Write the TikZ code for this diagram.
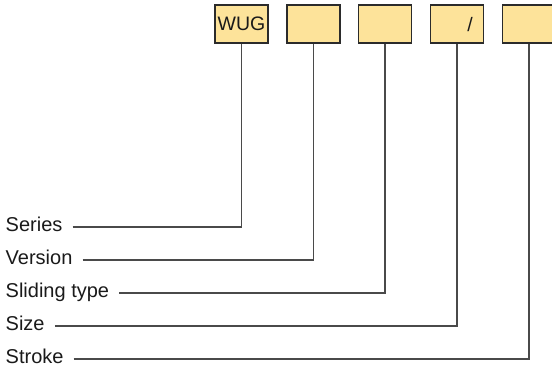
\documentclass[tikz,border=0pt]{standalone}
\usepackage{fontspec}
\setmainfont{Liberation Sans}
\usetikzlibrary{calc}
\definecolor{boxfill}{HTML}{FDE39A}
\definecolor{boxline}{HTML}{2B2B2B}
\definecolor{conn}{HTML}{4A4A4A}
\definecolor{txt}{HTML}{1A1A1A}
\tikzset{
  x=1pt, y=-1pt,
  codebox/.style={draw=boxline, fill=boxfill, line width=1.1pt, minimum width=53pt, minimum height=38pt, inner sep=0pt, anchor=center, text=txt, font=\fontsize{19.5}{22}\selectfont},
  lab/.style={anchor=west, inner sep=0pt, text height=12pt, text depth=4pt, text=txt, font=\fontsize{20}{23}\selectfont},
  connector/.style={draw=conn, line width=1.3pt},
}
\begin{document}
\begin{tikzpicture}
\useasboundingbox (0,0) rectangle (552,370);
\node[codebox] (b1) at (241.5,24) {WUG};
\node[codebox] (b2) at (313.5,24) {};
\node[codebox] (b3) at (385,24) {};
\node[codebox] (b4) at (457,24) {};
\node[codebox] (b5) at (529,24) {};
\node[inner sep=0pt, text=txt, font=\fontsize{19.5}{22}\selectfont] (slash) at (470,25) {/};

\node[lab] (l1) at (5.5,227) {Series};
\node[lab] (l2) at (5.5,260) {Version};
\node[lab] (l3) at (5.5,293) {Sliding type};
\node[lab] (l4) at (5.5,326) {Size};
\node[lab] (l5) at (5.5,359) {Stroke};

\draw[connector] ($(l1.east)+(10,0)$) -| (b1.south);
\draw[connector] ($(l2.east)+(10,0)$) -| (b2.south);
\draw[connector] ($(l3.east)+(10,0)$) -| (b3.south);
\draw[connector] ($(l4.east)+(10,0)$) -| (b4.south);
\draw[connector] ($(l5.east)+(10,0)$) -| (b5.south);
\end{tikzpicture}
\end{document}
